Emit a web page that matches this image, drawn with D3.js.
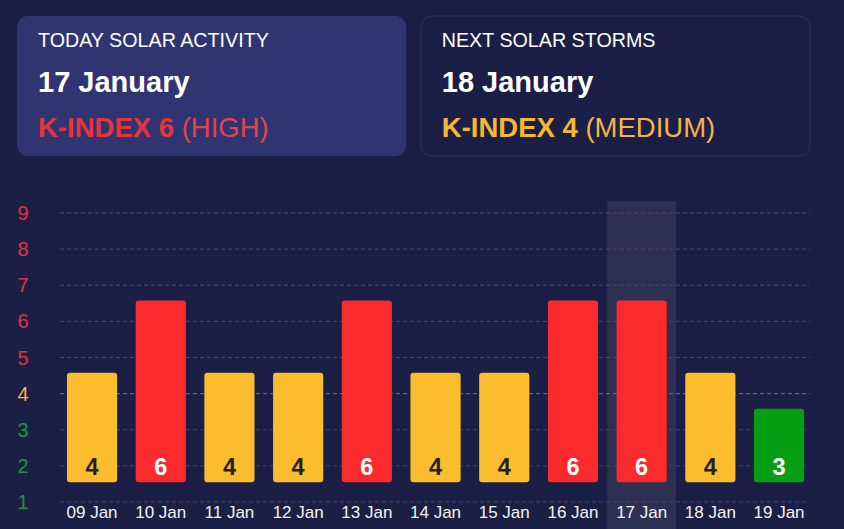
<!DOCTYPE html>
<html><head><meta charset="utf-8">
<script src="https://cdn.jsdelivr.net/npm/d3@7/dist/d3.min.js"></script>
<style>
html,body{margin:0;padding:0;background:#1c1f45;overflow:hidden;}
svg{display:block;font-family:"Liberation Sans",Arial,sans-serif;}
</style></head><body>
<svg id="c" width="844" height="529"></svg>
<script>
const categories = ["09 Jan","10 Jan","11 Jan","12 Jan","13 Jan","14 Jan","15 Jan","16 Jan","17 Jan","18 Jan","19 Jan"];
const kIndex = [4,6,4,4,6,4,4,6,6,4,3];
const yTicks = [1,2,3,4,5,6,7,8,9];
const highlightDay = "17 Jan";
const cards = [
  {title:"TODAY SOLAR ACTIVITY", date:"17 January", k:6, level:"(HIGH)"},
  {title:"NEXT SOLAR STORMS", date:"18 January", k:4, level:"(MEDIUM)"}
];

const svg = d3.select("#c");
const W = 844, H = 529;
svg.append("rect").attr("width",W).attr("height",H).attr("fill","#1c1f45");

function levelColor(v){ return v>=5 ? "#fb2b2d" : v===4 ? "#fbbd2e" : "#069e13"; }
function tickColor(v){ return v>=5 ? "#e2343f" : v===4 ? "#f4b53a" : "#179a3a"; }
function gridColor(v){ return v>=5 ? "#74336e" : v===4 ? "#7a785e" : "#41466a"; }
function textColor(v){ return v===4 ? "#222222" : "#ffffff"; }

// cards
const cardX = d3.scaleBand().domain(cards.map((d,i)=>i)).range([17,810]).paddingInner(0.036);
const cg = svg.selectAll("g.card").data(cards).join("g").attr("class","card")
  .attr("transform",(d,i)=>`translate(${cardX(i)},16)`);
cg.append("rect").attr("width",cardX.bandwidth()).attr("height",140).attr("rx",11)
  .attr("fill",(d,i)=>i===0?"#2f3570":"#1c1f45")
  .attr("stroke",(d,i)=>i===0?"none":"#2f345f").attr("stroke-width",1);
cg.append("text").attr("x",21).attr("y",31).attr("fill","#ffffff").attr("font-size",19.7).text(d=>d.title);
cg.append("text").attr("x",21).attr("y",75.5).attr("fill","#ffffff").attr("font-size",29).attr("font-weight","bold").text(d=>d.date);
const kt = cg.append("text").attr("x",21).attr("y",120.5).attr("font-size",27.5);
kt.append("tspan").attr("font-weight","bold").attr("fill",d=>d.k>=5?"#e8333b":"#f7b731").text(d=>`K-INDEX ${d.k} `);
kt.append("tspan").attr("fill",d=>d.k>=5?"#e0444e":"#f3b44a").text(d=>d.level);

// scales
const x = d3.scaleBand().domain(categories).range([57.7,813.4]).paddingInner(0.27).paddingOuter(0.135);
const y = d3.scaleLinear().domain([1,9]).range([502,213]);
const baseVal = 1.55, topOffset = 0.58;

// highlight
svg.append("rect")
  .attr("x", x(highlightDay) - x.step()*x.paddingInner()/2)
  .attr("width", x.step()).attr("y",201).attr("height",H-201)
  .attr("fill","#ffffff").attr("fill-opacity",0.08);

// grid
svg.selectAll("line.grid").data(yTicks).join("line").attr("class","grid")
  .attr("x1",60).attr("x2",810).attr("y1",d=>y(d)).attr("y2",d=>y(d))
  .attr("stroke",d=>gridColor(d)).attr("stroke-width",1).attr("stroke-dasharray","4,3");

// y labels
svg.selectAll("text.yl").data(yTicks).join("text").attr("class","yl")
  .attr("x",23).attr("y",d=>y(d)).attr("dy","0.35em").attr("text-anchor","middle")
  .attr("font-size",20).attr("fill",d=>tickColor(d)).text(d=>d);

// bars
const data = categories.map((c,i)=>({c, v:kIndex[i]}));
svg.selectAll("rect.bar").data(data).join("rect").attr("class","bar")
  .attr("x",d=>x(d.c)).attr("width",x.bandwidth())
  .attr("y",d=>y(d.v+topOffset)).attr("height",d=>y(baseVal)-y(d.v+topOffset))
  .attr("rx",3).attr("fill",d=>levelColor(d.v));

svg.selectAll("text.val").data(data).join("text").attr("class","val")
  .attr("x",d=>x(d.c)+x.bandwidth()/2).attr("y",y(baseVal)-7.5)
  .attr("text-anchor","middle").attr("font-size",23.5).attr("font-weight","bold")
  .attr("fill",d=>textColor(d.v)).text(d=>d.v);

// x labels
svg.selectAll("text.xl").data(categories).join("text").attr("class","xl")
  .attr("x",d=>x(d)+x.bandwidth()/2).attr("y",518)
  .attr("text-anchor","middle").attr("font-size",17).attr("fill","#f2f2f5").text(d=>d);
</script>
</body></html>
